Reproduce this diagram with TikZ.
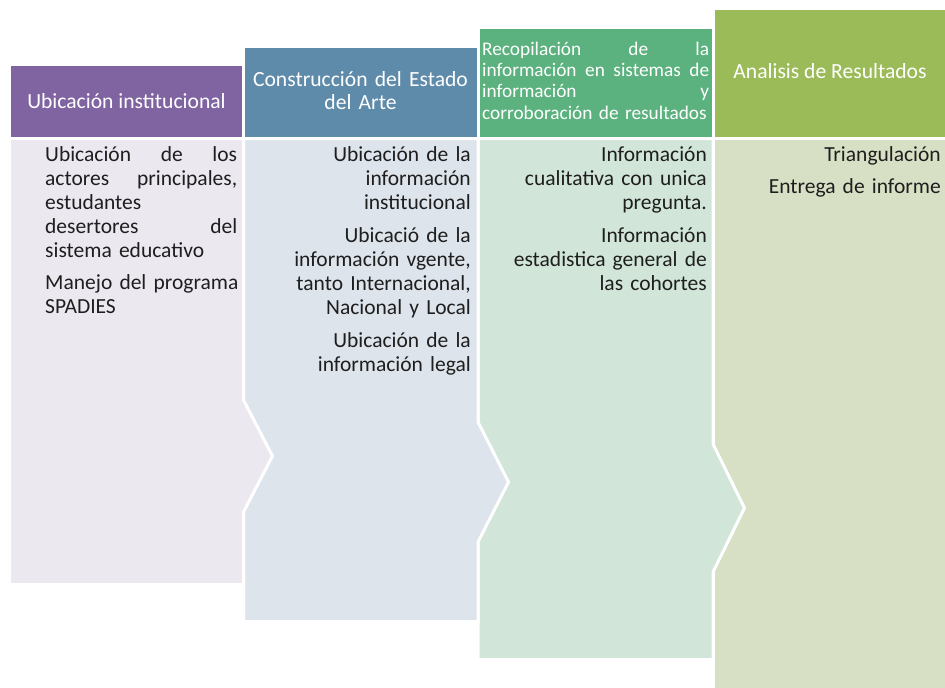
\documentclass[tikz,border=0pt]{standalone}
\usepackage{fontspec}
\setmainfont{Carlito}
\definecolor{hpur}{HTML}{8064A2}
\definecolor{hblu}{HTML}{5F8BAB}
\definecolor{hgrn}{HTML}{5BB27E}
\definecolor{holv}{HTML}{9BBB59}
\definecolor{bpur}{HTML}{EBE8EF}
\definecolor{bblu}{HTML}{DDE4EB}
\definecolor{bgrn}{HTML}{D1E5D9}
\definecolor{bolv}{HTML}{D7E0C4}
\definecolor{txtc}{HTML}{1E1E1E}
\tikzset{
  shapebox/.style={draw=white, line width=3pt, line join=miter},
  hdr/.style={inner sep=0pt, text=white, font=\fontsize{21.6}{23.3}\selectfont},
  hdrsmall/.style={inner sep=0pt, text=white, font=\fontsize{19.3}{21.4}\selectfont},
  bodytxt/.style={inner sep=0pt, text=txtc, font=\fontsize{21.5}{24}\selectfont},
}
\begin{document}
\begin{tikzpicture}[x=1pt,y=-1pt]
\useasboundingbox (0,0) rectangle (945,688);
% bodies, drawn right to left so each point overlaps the next column
\fill[bolv] (713,138.5) rectangle (948,692);
\draw[shapebox] (713,692) -- (713,138.5) -- (948,138.5);
\filldraw[shapebox, fill=bgrn] (478,138.5) -- (713,138.5) -- (713,444) -- (744.5,508) -- (713,572) -- (713,659.5) -- (478,659.5) -- cycle;
\filldraw[shapebox, fill=bblu] (243.5,138.5) -- (478,138.5) -- (478,422) -- (508.5,482) -- (478,542) -- (478,621.5) -- (243.5,621.5) -- cycle;
\filldraw[shapebox, fill=bpur] (9.5,138.5) -- (243.5,138.5) -- (243.5,400) -- (272.5,456) -- (243.5,512) -- (243.5,584.5) -- (9.5,584.5) -- cycle;
% headers
\filldraw[shapebox, fill=hpur] (9.5,64.5) rectangle (243.5,138.5);
\filldraw[shapebox, fill=hblu] (243.5,46.5) rectangle (478,138.5);
\filldraw[shapebox, fill=hgrn] (478,27.5) rectangle (713,138.5);
\filldraw[shapebox, fill=holv] (713,8.5) rectangle (948,138.5);
% header texts
\node[hdr, anchor=base] (h1) at (126.5,108.3) {Ubicación institucional};
\node[hdr, text width=230pt, align=center, anchor=base] (h2) at (360.5,86) {Construcción del Estado\\ del Arte};
\node[hdrsmall, text width=227pt, align=left, anchor=base west] (h3) at (482,55) {Recopilación\hfill de\hfill la\\ información\hfill en\hfill sistemas\hfill de\\ información\hfill y\\ \mbox{corroboración de resultados}};
\node[hdr, anchor=base] (h4) at (830,78.3) {Analisis de Resultados};
% body texts
\node[bodytxt, text width=192pt, align=left, anchor=base west] (t1) at (45,161.5) {Ubicación\hfill de\hfill los\\ actores\hfill principales,\\ estudantes\\ desertores\hfill del\\ sistema educativo\\[8pt] \mbox{Manejo del programa}\\ SPADIES};
\node[bodytxt, text width=230pt, align=right, anchor=base east] (t2) at (471,161.5) {Ubicación de la\\ información\\ institucional\\[8.7pt] Ubicació de la\\ información vgente,\\ tanto Internacional,\\ Nacional y Local\\[9.5pt] Ubicación de la\\ información legal};
\node[bodytxt, text width=230pt, align=right, anchor=base east] (t3) at (707,161.5) {Información\\ cualitativa con unica\\ pregunta.\\[8.7pt] Información\\ estadistica general de\\ las cohortes};
\node[bodytxt, text width=220pt, align=right, anchor=base east] (t4) at (941,161.5) {Triangulación\\[8pt] Entrega de informe};
\end{tikzpicture}
\end{document}
